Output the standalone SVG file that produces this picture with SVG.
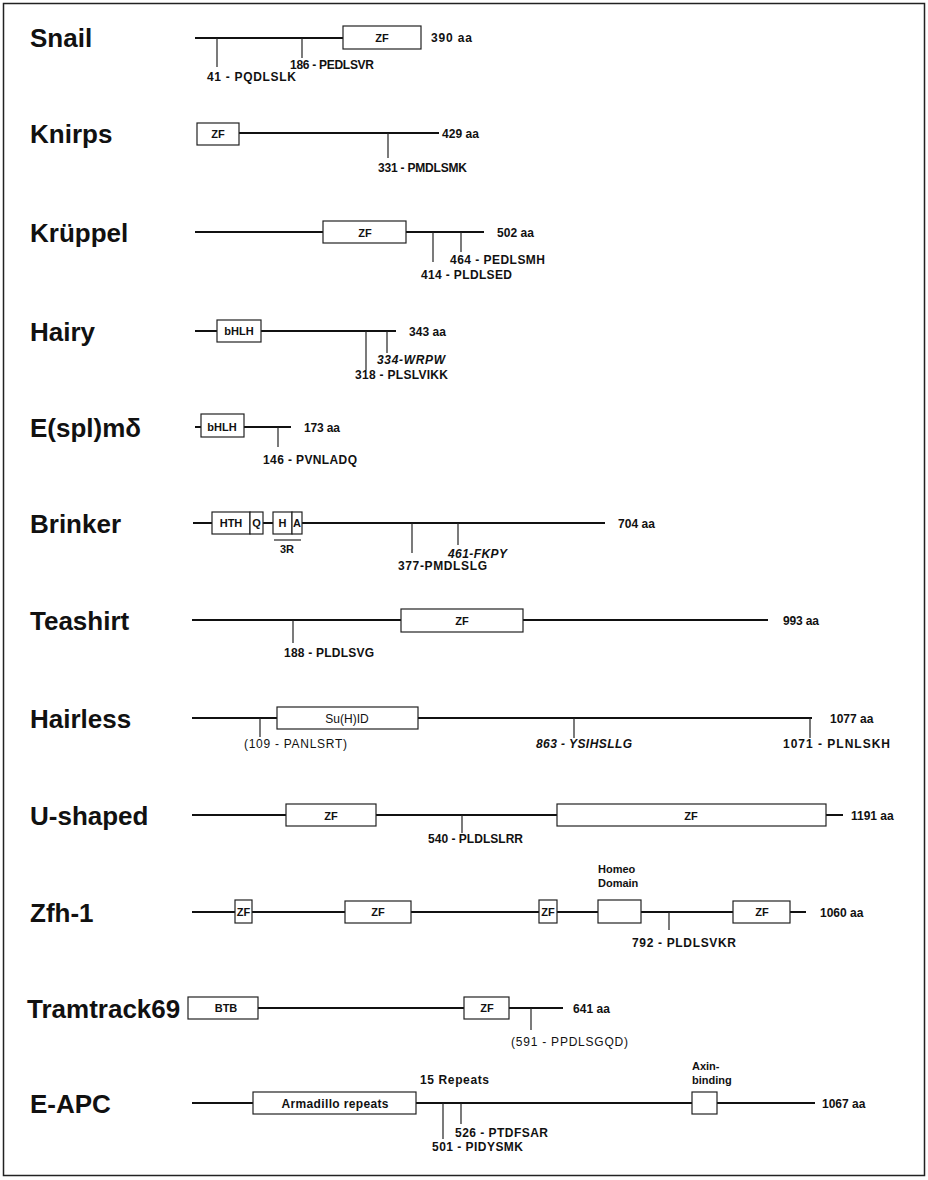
<svg xmlns="http://www.w3.org/2000/svg" width="928" height="1180" viewBox="0 0 928 1180">
<style>
.bg{fill:#fff}
.frame{fill:none;stroke:#222;stroke-width:1.5}
.ln{stroke:#111;stroke-width:2;fill:none}
.tk{stroke:#222;stroke-width:1.2;fill:none}
.bx{fill:#fff;stroke:#222;stroke-width:1.2}
.nm{font-family:"Liberation Sans",Arial,sans-serif;font-weight:bold;font-size:26px;fill:#111}
.s{font-family:"Liberation Sans",Arial,sans-serif;font-weight:bold;font-size:12px;fill:#111}
.b{font-family:"Liberation Sans",Arial,sans-serif;font-weight:bold;font-size:11px;fill:#111}
.si{font-family:"Liberation Sans",Arial,sans-serif;font-weight:bold;font-style:italic;font-size:12px;fill:#111}
.r{font-family:"Liberation Sans",Arial,sans-serif;font-size:12px;fill:#111}
.c{text-anchor:middle}
</style>
<rect class="bg" x="0" y="0" width="928" height="1180"/>
<rect class="frame" x="3.5" y="3.5" width="921" height="1172"/>

<g id="snail">
<text class="nm" x="30" y="47">Snail</text>
<line class="ln" x1="195" y1="38" x2="343" y2="38"/>
<line class="tk" x1="217" y1="38" x2="217" y2="67"/>
<line class="tk" x1="302" y1="38" x2="302" y2="58"/>
<rect class="bx" x="343" y="26" width="78" height="23"/>
<text class="b c" x="382" y="42">ZF</text>
<text class="s" x="431" y="42" textLength="41">390 aa</text>
<text class="s" x="290" y="69" textLength="84">186 - PEDLSVR</text>
<text class="s" x="207" y="81" textLength="89">41 - PQDLSLK</text>
</g>

<g id="knirps">
<text class="nm" x="30" y="143">Knirps</text>
<line class="ln" x1="239" y1="133" x2="439" y2="133"/>
<line class="tk" x1="388" y1="133" x2="388" y2="158"/>
<rect class="bx" x="197" y="123" width="42" height="22"/>
<text class="b c" x="218" y="138">ZF</text>
<text class="s" x="442" y="138" textLength="37">429 aa</text>
<text class="s" x="378" y="172" textLength="89">331 - PMDLSMK</text>
</g>

<g id="kruppel">
<text class="nm" x="30" y="242">Krüppel</text>
<line class="ln" x1="195" y1="232" x2="484" y2="232"/>
<line class="tk" x1="433" y1="232" x2="433" y2="262"/>
<line class="tk" x1="461" y1="232" x2="461" y2="252"/>
<rect class="bx" x="323" y="221" width="83" height="22"/>
<text class="b c" x="365" y="237">ZF</text>
<text class="s" x="497" y="237" textLength="37">502 aa</text>
<text class="s" x="450" y="264" textLength="95">464 - PEDLSMH</text>
<text class="s" x="421" y="279" textLength="91">414 - PLDLSED</text>
</g>

<g id="hairy">
<text class="nm" x="30" y="341">Hairy</text>
<line class="ln" x1="195" y1="331" x2="396" y2="331"/>
<line class="tk" x1="366" y1="331" x2="366" y2="370"/>
<line class="tk" x1="387" y1="331" x2="387" y2="353"/>
<rect class="bx" x="217" y="320" width="44" height="22"/>
<text class="b c" x="239" y="335">bHLH</text>
<text class="s" x="409" y="336" textLength="37">343 aa</text>
<text class="si" x="377" y="364" textLength="68">334-WRPW</text>
<text class="s" x="355" y="379" textLength="93">318 - PLSLVIKK</text>
</g>

<g id="esplm">
<text class="nm" x="30" y="437">E(spl)mδ</text>
<line class="ln" x1="195" y1="427" x2="291" y2="427"/>
<line class="tk" x1="278" y1="427" x2="278" y2="447"/>
<rect class="bx" x="201" y="414" width="43" height="23"/>
<text class="b c" x="222" y="431">bHLH</text>
<text class="s" x="304" y="432" textLength="36">173 aa</text>
<text class="s" x="263" y="464" textLength="94">146 - PVNLADQ</text>
</g>

<g id="brinker">
<text class="nm" x="30" y="533">Brinker</text>
<line class="ln" x1="193" y1="523" x2="605" y2="523"/>
<line class="tk" x1="412" y1="523" x2="412" y2="553"/>
<line class="tk" x1="458" y1="523" x2="458" y2="545"/>
<rect class="bx" x="212" y="512" width="38" height="22"/>
<rect class="bx" x="250" y="512" width="13" height="22"/>
<rect class="bx" x="273" y="512" width="19" height="22"/>
<rect class="bx" x="292" y="512" width="10" height="22"/>
<text class="b c" x="231" y="527">HTH</text>
<text class="b c" x="256.5" y="527">Q</text>
<text class="b c" x="282.5" y="527">H</text>
<text class="b c" x="297" y="527">A</text>
<line class="tk" x1="274" y1="540" x2="301" y2="540"/>
<text class="b c" x="287" y="553">3R</text>
<text class="s" x="618" y="528" textLength="37">704 aa</text>
<text class="si" x="448" y="558" textLength="59">461-FKPY</text>
<text class="s" x="398" y="570" textLength="89">377-PMDLSLG</text>
</g>

<g id="teashirt">
<text class="nm" x="30" y="630">Teashirt</text>
<line class="ln" x1="192" y1="620" x2="768" y2="620"/>
<line class="tk" x1="293" y1="620" x2="293" y2="643"/>
<rect class="bx" x="401" y="609" width="122" height="23"/>
<text class="b c" x="462" y="625">ZF</text>
<text class="s" x="783" y="625" textLength="36">993 aa</text>
<text class="s" x="284" y="657" textLength="90">188 - PLDLSVG</text>
</g>

<g id="hairless">
<text class="nm" x="30" y="728">Hairless</text>
<line class="ln" x1="192" y1="718" x2="812" y2="718"/>
<line class="tk" x1="260" y1="718" x2="260" y2="737"/>
<line class="tk" x1="574" y1="718" x2="574" y2="738"/>
<line class="tk" x1="810" y1="718" x2="810" y2="738"/>
<rect class="bx" x="277" y="707" width="141" height="22"/>
<text class="r c" x="347" y="723">Su(H)ID</text>
<text class="s" x="830" y="723">1077 aa</text>
<text class="r" x="244" y="748" textLength="103">(109 - PANLSRT)</text>
<text class="si" x="536" y="748" textLength="96">863 - YSIHSLLG</text>
<text class="s" x="783" y="748" textLength="107">1071 - PLNLSKH</text>
</g>

<g id="ushaped">
<text class="nm" x="30" y="825">U-shaped</text>
<line class="ln" x1="192" y1="815" x2="843" y2="815"/>
<line class="tk" x1="462" y1="815" x2="462" y2="833"/>
<rect class="bx" x="286" y="804" width="90" height="22"/>
<text class="b c" x="331" y="820">ZF</text>
<rect class="bx" x="557" y="804" width="269" height="22"/>
<text class="b c" x="691" y="820">ZF</text>
<text class="s" x="851" y="820">1191 aa</text>
<text class="s" x="428" y="843" textLength="95">540 - PLDLSLRR</text>
</g>

<g id="zfh1">
<text class="nm" x="30" y="922">Zfh-1</text>
<line class="ln" x1="192" y1="912" x2="806" y2="912"/>
<line class="tk" x1="669" y1="912" x2="669" y2="930"/>
<rect class="bx" x="235" y="900" width="17" height="23"/>
<text class="b c" x="243.5" y="916">ZF</text>
<rect class="bx" x="345" y="901" width="66" height="22"/>
<text class="b c" x="378" y="916">ZF</text>
<rect class="bx" x="539" y="900" width="18" height="23"/>
<text class="b c" x="548" y="916">ZF</text>
<rect class="bx" x="598" y="900" width="43" height="23"/>
<text class="b" x="598" y="873">Homeo</text>
<text class="b" x="598" y="887">Domain</text>
<rect class="bx" x="733" y="901" width="57" height="22"/>
<text class="b c" x="762" y="916">ZF</text>
<text class="s" x="820" y="917">1060 aa</text>
<text class="s" x="632" y="947" textLength="104">792 - PLDLSVKR</text>
</g>

<g id="tramtrack69">
<text class="nm" x="27" y="1018">Tramtrack69</text>
<line class="ln" x1="257" y1="1008" x2="464" y2="1008"/>
<line class="ln" x1="509" y1="1008" x2="563" y2="1008"/>
<line class="tk" x1="531" y1="1008" x2="531" y2="1030"/>
<rect class="bx" x="188" y="997" width="70" height="22"/>
<text class="b c" x="226" y="1012">BTB</text>
<rect class="bx" x="464" y="997" width="45" height="22"/>
<text class="b c" x="487" y="1012">ZF</text>
<text class="s" x="573" y="1013" textLength="37">641 aa</text>
<text class="r" x="511" y="1046" textLength="117">(591 - PPDLSGQD)</text>
</g>

<g id="eapc">
<text class="nm" x="30" y="1113">E-APC</text>
<line class="ln" x1="192" y1="1103" x2="815" y2="1103"/>
<line class="tk" x1="443" y1="1103" x2="443" y2="1139"/>
<line class="tk" x1="461" y1="1103" x2="461" y2="1124"/>
<rect class="bx" x="253" y="1092" width="163" height="22"/>
<text class="s c" x="335" y="1108" textLength="107">Armadillo repeats</text>
<text class="s" x="420" y="1084" textLength="69">15 Repeats</text>
<rect class="bx" x="692" y="1092" width="25" height="22"/>
<text class="b" x="692" y="1070">Axin-</text>
<text class="b" x="692" y="1084">binding</text>
<text class="s" x="822" y="1108">1067 aa</text>
<text class="s" x="455" y="1137" textLength="93">526 - PTDFSAR</text>
<text class="s" x="432" y="1151" textLength="91">501 - PIDYSMK</text>
</g>
</svg>
